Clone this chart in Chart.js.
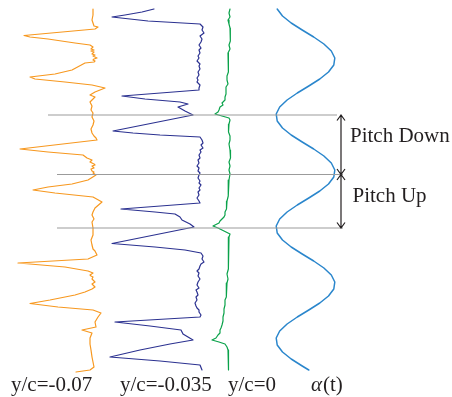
<!DOCTYPE html>
<html>
<head>
<meta charset="utf-8">
<script src="https://cdn.jsdelivr.net/npm/chart.js@4"></script>
<style>
  html, body { margin: 0; padding: 0; background: #ffffff; }
  #wrap { width: 452px; height: 397px; }
</style>
</head>
<body>
<div id="wrap"><canvas id="c" width="452" height="397"></canvas></div>
<script>
// Time runs downward (samples); each trace is [time, signal] with signal measured from its own resting column.
const traceLow = [ // y/c = -0.07
  [0,0],[6,0],[11,-1],[17,1],[18,5],[20,2],[26.5,-69],[28,-63],[30,-45],[34,-18],[36,-3],[38,0],[40,-2],[41,1],[42,-2],
  [43,1],[45,-1],[46,2],[47,0],[49,4],[50,1],[51,0],[52,2],[53,1],[54,-8],[61,-21],[65,-38],[68,-63],[70,-58],[73,-28],
  [76,-1],[79,12],[83,2],[86,-3],[88,2],[91,-1],[93,-3],[97,-1],[101,-2],[104,0],[108,-1],[112,1],[116,0],[120,-2],
  [124,-1],[127,1],[129,3],[131,4],[140,-73],[143,-45],[146,-10],[149,-6],[151,-1],[153,-3],[155,1],[156,2],[157,-1],
  [159,1],[160,-2],[162,-1],[163,1],[164,0],[166,3],[171,-5],[175,-21],[178,-45],[181,-60],[184,-38],[188,0],[193,9],
  [199,2],[203,0],[206,-1],[210,1],[213,-1],[219,0],[226,0],[231,-2],[236,-1],[240,0],[242,2],[246,4],[250,-5],
  [254,-75],[258,-28],[262,-5],[264,0],[266,-3],[267,-2],[268,0],[270,-1],[272,1],[273,2],[275,-1],[276,0],[278,2],
  [280,-1],[283,-8],[286,-18],[288,-28],[291,-43],[294.5,-63],[298,-35],[301,0],[304,8],[308,5],[313,2],[318,3],
  [321,-11],[324,-1],[329,-3],[335,-3],[341,-2],[348,-1],[353,0],[358,1],[361,-3],[363,-17]
];
const traceMid = [ // y/c = -0.035
  [0,-46],[3,-58],[6,-75],[8,-88],[10,-70],[12,-52],[15,0],[18,3],[21,2],[24,4],[27,0],[30,2],[33,1],[36,-1],[39,1],
  [41,-1],[44,0],[47,-2],[49,-1],[52,-3],[55,0],[57,-1],[60,0],[63,-2],[66,-1],[69,-3],[71,-2],[73,-3],[76,0],[79,-1],
  [81,-1],[87,-78],[90,-55],[93,-20],[95,-12],[98,-22],[102,-15],[106,-7],[122,-87],[124,-67],[126,-40],[128,0],
  [131,2],[134,3],[136,1],[139,3],[141,0],[143,1],[146,-1],[149,0],[151,-2],[154,-1],[157,-3],[159,-1],[162,-2],
  [164,0],[166,-1],[169,-2],[172,0],[174,-1],[176,1],[179,-1],[181,0],[183,-2],[186,-1],[189,-3],[192,-1],[194,0],
  [200,-79],[203,-45],[205,-25],[208,-20],[211,-18],[215,-10],[218,-6],[234.5,-88],[238,-45],[241,-15],[244,1],
  [247,3],[250,2],[253,4],[255,1],[257,0],[260,-1],[262,-3],[264,-1],[267,-2],[270,0],[273,-2],[276,-3],[279,-1],
  [281,-4],[283,-3],[286,-2],[288,-4],[291,-3],[294,-5],[297,-4],[299,-3],[301,-1],[303,-1],[306,1],[308,0],
  [313,-85],[317,-50],[321,-19],[325,-17],[331,-7],[335,-30],[341,-60],[348,-90],[352,-40],[356,0],[361,2]
];
const traceWall = [ // y/c = 0
  [0,1],[4,0],[8,1],[11,-1],[15,0],[19,1],[24,2],[28,1],[32,1],[36,0],[40,1],[44,-1],[48,0],[51,-1],[55,0],[59,-1],
  [63,-1],[67,-2],[71,-2],[75,-1],[78,-3],[81,-3],[85,-3],[88,-4],[91,-4],[94,-7],[96,-6],[98,-9],[101,-10],
  [103,-11],[105,-14],[107,-7],[109,0],[111,1],[115,0],[119,-1],[123,0],[127,1],[131,1],[135,0],[141,1],[145,2],
  [149,1],[153,0],[157,1],[161,0],[165,1],[171,0],[175,-1],[179,0],[183,-1],[187,-1],[192,-2],[196,-2],[200,-3],
  [203,-4],[206,-4],[208,-5],[210,-7],[212,-9],[214,-10],[217,-16],[219,-11],[221,-7],[223,-3],[225,1],[228,0],
  [231,0],[235,-1],[240,0],[244,-1],[248,-1],[252,0],[255,-1],[260,-1],[265,-2],[270,-1],[274,-2],[279,-2],
  [284,-3],[288,-3],[291,-4],[296,-4],[300,-5],[304,-5],[308,-6],[312,-6],[316,-7],[319,-8],[321,-9],[324,-9],
  [326,-11],[329,-13],[331,-17],[333,-10],[335,-4],[338,-2],[341,-1],[346,0],[351,-1],[356,0],[361,-1]
];
const pitchAngle = [ // alpha(t)
  [0,-28.3],[7,-23.0],[14,-14.3],[21,-3.3],[28,8.2],[35,18.4],[42,25.8],[49,29.3],[56,28.3],[63,23.0],[70,14.3],
  [77,3.3],[84,-8.2],[91,-18.4],[98,-25.8],[105,-29.3],[112,-28.3],[119,-23.0],[126,-14.3],[133,-3.3],[140,8.2],
  [147,18.4],[154,25.8],[161,29.3],[168,28.3],[175,23.0],[182,14.3],[189,3.3],[196,-8.2],[203,-18.4],[210,-25.8],
  [217,-29.3],[224,-28.3],[231,-23.0],[238,-14.3],[245,-3.3],[252,8.2],[259,18.4],[266,25.8],[273,29.3],[280,28.3],
  [287,23.0],[294,14.3],[301,3.3],[308,-8.2],[315,-18.4],[322,-25.8],[329,-29.3],[336,-28.3],[343,-23.0],[350,-14.3],
  [357,-3.3],[361,3.3]
];
// Phase markers (time) for the guide lines: end of pitch-up, top of stroke, end of pitch-down
const phaseMarks = [106, 165.5, 219];
const traceLabels = ['y/c=-0.07', 'y/c=-0.035', 'y/c=0'];
const phaseLabels = ['Pitch Down', 'Pitch Up'];

// Horizontal lane layout for each trace
const lanes = [
  { data: traceLow,   base: 93,    color: '#f7981f', width: 1.2 },
  { data: traceMid,   base: 200,   color: '#2b3190', width: 1.2 },
  { data: traceWall,  base: 229,   color: '#0aa24a', width: 1.2 },
  { data: pitchAngle, base: 305.5, color: '#2a86cc', width: 1.5 }
];
const guideSpans = [[48, 337], [57, 343], [57, 343]];
const arrowX = 341;
const ink = '#231f20';

const datasets = [];
phaseMarks.forEach((t, i) => {
  datasets.push({
    data: guideSpans[i].map(x => ({ x: x, y: t })),
    borderColor: '#9b9b9b', borderWidth: 1.1, showLine: true, pointRadius: 0
  });
});
lanes.forEach(l => {
  datasets.push({
    data: l.data.map(p => ({ x: l.base + p[1], y: p[0] })),
    borderColor: l.color, borderWidth: l.width, showLine: true, pointRadius: 0,
    tension: 0, borderJoinStyle: 'round', borderCapStyle: 'round'
  });
});

const annotate = {
  id: 'annotate',
  afterDatasetsDraw(chart) {
    const ctx = chart.ctx;
    const xs = chart.scales.x, ys = chart.scales.y;
    const ax = xs.getPixelForValue(arrowX);
    const yTop = ys.getPixelForValue(phaseMarks[0]);
    const yMid = ys.getPixelForValue(phaseMarks[1]);
    const yBot = ys.getPixelForValue(phaseMarks[2]);
    ctx.save();
    ctx.strokeStyle = ink;
    ctx.lineWidth = 1.2;
    ctx.beginPath();
    ctx.moveTo(ax, yTop); ctx.lineTo(ax, yBot);
    // arrow heads
    const head = (y, dir) => {
      ctx.moveTo(ax - 4, y - dir * 5.5); ctx.lineTo(ax, y); ctx.lineTo(ax + 4, y - dir * 5.5);
    };
    head(yTop, -1); head(yMid, 1); head(yMid, -1); head(yBot, 1);
    ctx.stroke();

    ctx.fillStyle = ink;
    ctx.textBaseline = 'alphabetic';
    ctx.font = '21px "Liberation Serif", serif';
    ctx.fillText(phaseLabels[0], 350, 141.5);
    ctx.fillText(phaseLabels[1], 352.5, 202);
    ctx.fillText(traceLabels[0], 11, 390.5);
    ctx.fillText(traceLabels[1], 120, 390.5);
    ctx.fillText(traceLabels[2], 228, 390.5);
    ctx.font = 'italic 21px "Liberation Serif", serif';
    ctx.fillText('\u03b1', 311, 390.5);
    const aw = ctx.measureText('\u03b1').width;
    ctx.font = '21px "Liberation Serif", serif';
    ctx.fillText('(t)', 311 + aw + 1, 390.5);
    ctx.restore();
  }
};

new Chart(document.getElementById('c'), {
  type: 'scatter',
  data: { datasets },
  options: {
    responsive: false,
    animation: false,
    layout: { padding: 0 },
    plugins: { legend: { display: false }, tooltip: { enabled: false } },
    scales: {
      x: { type: 'linear', display: false, min: 0, max: 452 },
      y: { type: 'linear', display: false, min: -9, max: 388, reverse: true }
    }
  },
  plugins: [annotate]
});
</script>
</body>
</html>
